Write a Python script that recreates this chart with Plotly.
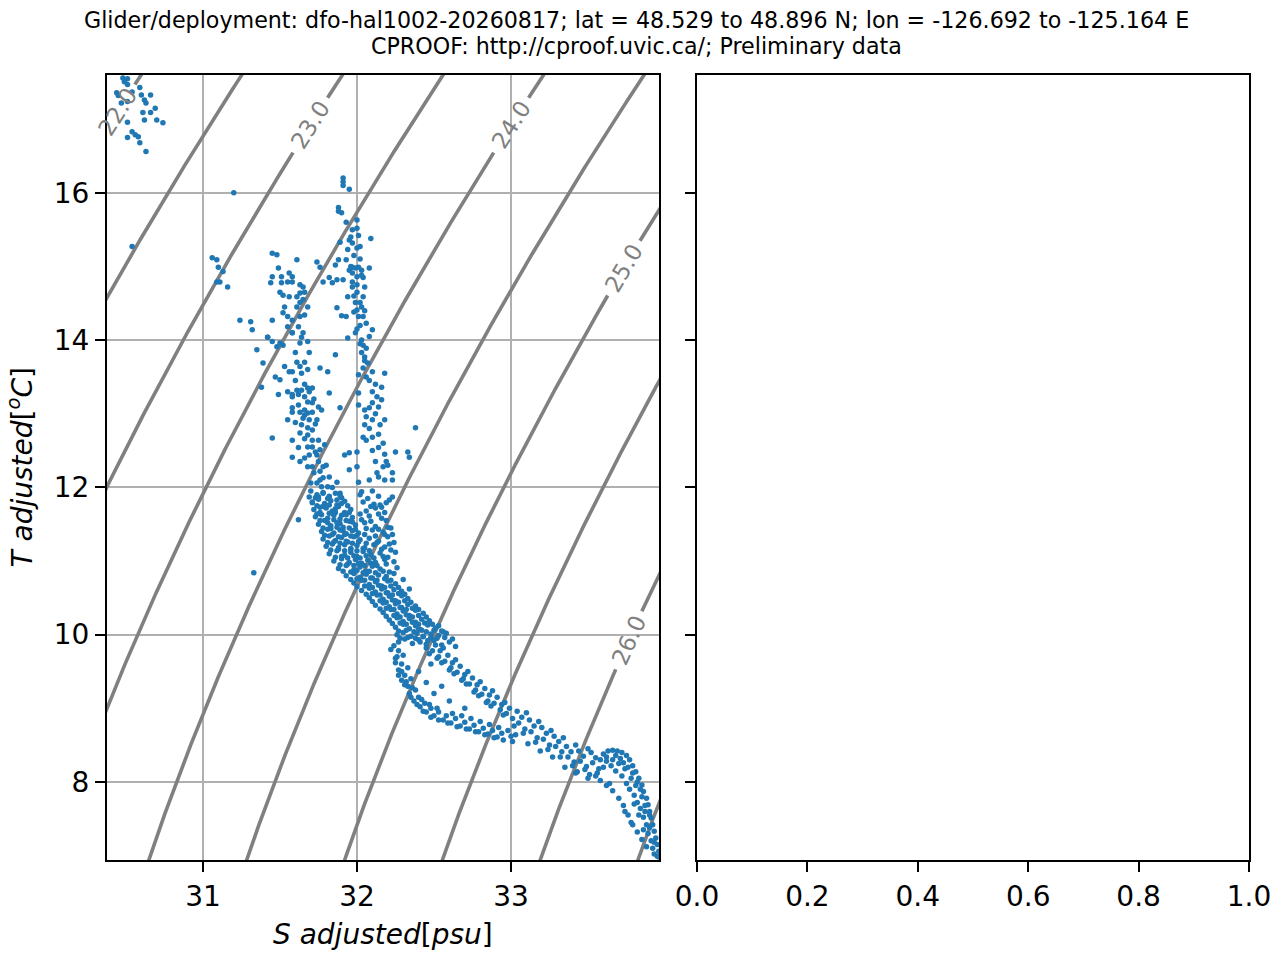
import numpy as np
import plotly.graph_objects as go

# ---------------- data ----------------
title_line1 = "Glider/deployment: dfo-hal1002-20260817; lat = 48.529 to 48.896 N; lon = -126.692 to -125.164 E"
title_line2 = "CPROOF: http://cproof.uvic.ca/; Preliminary data"

x_ticks = [31, 32, 33]
y_ticks = [8, 10, 12, 14, 16]
x2_ticks = [0.0, 0.2, 0.4, 0.6, 0.8, 1.0]
x2_ticktext = ["0.0", "0.2", "0.4", "0.6", "0.8", "1.0"]
x_range = [30.377, 33.961]
y_range = [6.94, 17.60]

density_levels = [22.0, 22.5, 23.0, 23.5, 24.0, 24.5, 25.0, 25.5, 26.0, 26.5, 27.0]
label_levels = [22.0, 23.0, 24.0, 25.0, 26.0]
label_temps = [17.10, 16.92, 16.92, 14.98, 9.93]   # temperature at which each inline label sits

# (salinity psu, temperature degC) pairs, grouped by region of the T-S cloud
surface_pts = [
    (30.48, 17.56), (30.51, 17.55), (30.49, 17.51), (30.51, 17.47), (30.44, 17.36), (30.45, 17.32),
    (30.47, 17.22), (30.51, 17.24), (30.54, 17.37), (30.59, 17.43), (30.60, 17.33), (30.62, 17.26),
    (30.63, 17.22), (30.66, 17.33), (30.61, 17.09), (30.66, 17.09), (30.69, 17.15), (30.70, 16.99),
    (30.74, 16.95), (30.62, 16.99), (30.51, 16.96), (30.54, 16.83), (30.56, 16.79), (30.58, 16.76),
    (30.59, 16.68), (30.51, 16.75), (30.63, 16.56), (31.20, 16.00), (30.54, 15.27),
]

upper_pts = [
    (31.91, 16.20), (31.91, 16.15), (31.91, 16.10), (31.95, 16.05),
    (31.88, 15.80), (31.88, 15.75), (31.90, 15.73),
    (31.93, 15.60), (32.00, 15.63), (31.97, 15.50), (32.00, 15.52),
    (31.95, 15.36), (31.97, 15.32), (31.94, 15.23), (32.00, 15.25), (32.02, 15.27), (32.09, 15.38),
    (31.93, 15.09), (31.97, 14.99), (31.99, 14.98), (32.01, 14.99), (31.97, 14.91), (32.00, 14.86),
    (32.03, 14.95), (32.08, 14.98),
    (31.97, 14.79), (31.97, 14.72), (32.00, 14.65), (32.04, 14.85), (32.05, 14.72), (32.04, 14.59),
    (32.02, 14.51), (32.00, 14.41), (32.01, 14.32), (32.04, 14.32), (32.06, 14.23), (32.10, 14.14),
    (31.99, 14.51),
    (31.89, 15.33), (31.88, 15.09), (31.91, 14.82), (31.87, 14.82), (31.94, 14.59), (31.87, 14.44),
    (31.90, 14.33), (31.93, 14.32),
    (31.74, 15.06), (31.76, 14.99), (31.78, 14.79), (31.84, 14.78), (31.82, 14.85), (31.86, 15.02),
    (31.45, 15.18), (31.48, 15.16), (31.61, 15.09), (31.49, 14.98), (31.56, 14.91), (31.58, 14.86),
    (31.51, 14.86), (31.45, 14.86), (31.44, 14.78), (31.51, 14.78), (31.55, 14.79), (31.58, 14.79),
    (31.63, 14.75), (31.65, 14.72), (31.66, 14.65), (31.63, 14.64), (31.61, 14.59), (31.56, 14.59),
    (31.52, 14.61), (31.50, 14.65), (31.65, 14.55), (31.63, 14.51), (31.68, 14.45), (31.61, 14.45),
    (31.53, 14.45), (31.52, 14.37), (31.55, 14.32), (31.63, 14.32), (31.66, 14.34), (31.58, 14.27),
    (31.55, 14.18), (31.62, 14.18), (31.65, 14.10), (31.58, 14.10), (31.45, 14.27), (31.31, 14.25),
    (31.24, 14.27), (31.32, 14.14), (31.42, 14.04),
    (31.06, 15.12), (31.09, 15.09), (31.10, 14.99), (31.13, 14.93), (31.09, 14.79), (31.11, 14.79),
    (31.16, 14.72),
    (31.96, 15.40), (31.98, 15.15), (32.02, 15.10), (31.95, 14.95), (32.03, 14.88), (32.00, 14.75),
    (31.98, 14.60), (32.03, 14.45), (31.98, 14.38), (32.05, 14.40), (32.02, 14.20), (32.08, 14.05),
    (32.00, 14.15), (31.96, 15.00), (32.01, 15.42),
]

middle_pts = [
    (31.35, 13.87), (31.42, 14.04), (31.45, 13.98), (31.48, 13.91), (31.50, 13.96), (31.52, 13.93),
    (31.39, 13.69), (31.58, 14.10), (31.64, 14.04), (31.68, 13.98), (31.63, 13.96), (31.60, 13.83),
    (31.61, 13.70), (31.66, 13.70), (31.69, 13.83), (31.63, 13.64), (31.58, 13.57), (31.64, 13.55),
    (31.68, 13.60), (31.76, 13.62), (31.81, 13.57), (31.86, 13.80),
    (31.47, 13.50), (31.50, 13.46), (31.53, 13.64), (31.56, 13.57), (31.38, 13.36), (31.49, 13.26),
    (31.55, 13.30), (31.58, 13.26), (31.61, 13.32), (31.64, 13.32), (31.68, 13.35), (31.69, 13.30),
    (31.71, 13.35), (31.82, 13.28), (31.62, 13.26), (31.66, 13.23), (31.58, 13.23),
    (31.68, 13.16), (31.71, 13.15), (31.66, 13.05), (31.63, 13.02), (31.68, 13.01), (31.71, 13.02),
    (31.75, 13.09), (31.77, 13.05), (31.58, 13.08), (31.58, 13.02), (31.55, 12.92), (31.65, 12.94),
    (31.69, 12.92), (31.74, 12.92), (31.64, 12.85), (31.68, 12.81), (31.71, 12.78), (31.68, 12.71),
    (31.63, 12.74), (31.58, 12.64), (31.71, 12.64), (31.75, 12.64), (31.71, 12.55), (31.68, 12.55),
    (31.62, 12.54), (31.76, 12.51), (31.79, 12.58), (31.74, 12.44), (31.69, 12.44), (31.58, 12.41),
    (31.63, 12.35), (31.75, 12.35), (31.78, 12.28), (31.71, 12.28), (31.68, 12.28),
    (31.45, 12.67), (31.89, 13.08),
    (31.94, 14.03), (31.99, 14.10), (32.03, 14.00), (32.04, 13.93), (32.06, 13.89), (32.03, 13.83),
    (32.05, 13.77), (32.07, 13.69), (32.04, 13.62), (32.01, 13.53), (32.10, 13.57), (32.18, 13.55),
    (32.16, 13.36), (32.10, 13.30), (32.13, 13.23), (32.16, 13.19), (32.14, 13.09), (32.08, 13.08),
    (32.05, 13.05), (32.06, 12.96), (32.10, 12.92), (32.18, 12.92), (32.15, 12.85), (32.04, 12.68),
    (32.10, 12.68), (32.06, 12.64), (32.17, 12.60), (32.14, 12.54), (32.25, 12.48), (32.33, 12.48),
    (32.34, 12.41), (32.12, 12.35), (32.17, 12.28), (32.19, 12.35), (32.23, 12.20), (32.14, 12.14),
    (32.18, 12.10), (32.23, 12.10), (32.01, 13.28), (32.01, 13.12), (32.00, 12.48), (31.95, 12.47),
    (31.92, 12.44), (32.00, 12.28), (31.95, 12.24), (32.01, 12.07), (32.03, 11.94),
    (32.38, 12.81),
    (31.76, 12.10), (31.78, 12.13), (31.74, 12.06), (31.77, 12.01), (31.81, 12.01), (31.82, 12.14),
    (31.87, 12.07), (31.75, 11.87), (31.78, 11.92), (31.82, 11.87), (31.87, 11.83), (31.89, 11.92),
    (31.71, 11.79), (31.76, 11.73), (31.82, 11.76), (31.69, 11.87), (32.21, 11.83), (32.23, 11.87),
    (32.19, 11.79), (32.16, 11.73),
    (32.02, 13.95), (32.05, 13.72), (32.08, 13.45), (32.12, 13.40), (32.06, 13.50), (32.10, 13.15),
    (32.12, 13.00), (32.08, 12.80), (32.14, 12.72), (32.18, 12.45), (32.20, 12.30), (32.10, 12.50),
    (32.05, 12.85), (32.13, 12.20), (32.08, 12.10),
    (31.60, 13.45), (31.66, 13.40), (31.72, 13.20), (31.62, 13.12), (31.66, 12.98), (31.73, 12.86),
    (31.60, 12.88), (31.66, 12.66), (31.73, 12.48), (31.66, 12.40), (31.72, 12.20), (31.76, 12.22),
    (31.80, 12.30), (31.70, 12.06), (31.84, 12.00),
]

band_pts = [
    (31.70, 11.95), (31.74, 11.90), (31.78, 11.93), (31.82, 11.88), (31.86, 11.92), (31.90, 11.86),
    (32.02, 11.90), (32.10, 11.95), (32.14, 11.88),
    (31.73, 11.86), (31.81, 11.85), (31.89, 11.89), (32.07, 11.85),
    (31.71, 11.80), (31.75, 11.84), (31.79, 11.78), (31.83, 11.82), (31.87, 11.76), (31.92, 11.81),
    (32.04, 11.80), (32.11, 11.77),
    (31.74, 11.75), (31.78, 11.74), (31.86, 11.71), (31.90, 11.78), (31.94, 11.75), (32.09, 11.74),
    (32.15, 11.76),
    (31.72, 11.70), (31.76, 11.66), (31.80, 11.72), (31.84, 11.68), (31.88, 11.74), (31.92, 11.66),
    (31.96, 11.70), (32.06, 11.68), (32.12, 11.72), (32.18, 11.66),
    (31.74, 11.64), (31.82, 11.65), (31.86, 11.66), (31.90, 11.62), (31.95, 11.66), (32.02, 11.64),
    (32.14, 11.64),
    (31.73, 11.60), (31.77, 11.63), (31.81, 11.58), (31.85, 11.62), (31.89, 11.57), (31.93, 11.63),
    (31.97, 11.59), (32.08, 11.61), (32.16, 11.58),
    (31.76, 11.55), (31.81, 11.52), (31.85, 11.56), (31.89, 11.51), (31.93, 11.55), (31.97, 11.53),
    (32.03, 11.56), (32.09, 11.54),
    (31.75, 11.50), (31.79, 11.55), (31.83, 11.48), (31.87, 11.52), (31.91, 11.46), (31.95, 11.54),
    (31.99, 11.49), (32.05, 11.52), (32.12, 11.47), (32.19, 11.55), (32.22, 11.45),
    (31.78, 11.45), (31.83, 11.44), (31.87, 11.46), (31.91, 11.41), (31.95, 11.45), (31.99, 11.43),
    (32.06, 11.44), (32.14, 11.43), (32.20, 11.46),
    (31.77, 11.40), (31.81, 11.43), (31.85, 11.38), (31.89, 11.42), (31.93, 11.37), (31.97, 11.41),
    (32.01, 11.38), (32.10, 11.42), (32.17, 11.39), (32.23, 11.36),
    (31.79, 11.35), (31.84, 11.36), (31.88, 11.33), (31.92, 11.36), (31.96, 11.34), (32.00, 11.35),
    (32.05, 11.36), (32.12, 11.34), (32.18, 11.36),
    (31.78, 11.30), (31.82, 11.34), (31.86, 11.28), (31.90, 11.32), (31.94, 11.26), (31.98, 11.33),
    (32.02, 11.29), (32.08, 11.31), (32.14, 11.27), (32.20, 11.33), (32.24, 11.25),
    (31.81, 11.25), (31.85, 11.26), (31.89, 11.24), (31.93, 11.27), (31.97, 11.24), (32.01, 11.26),
    (32.06, 11.24), (32.13, 11.25), (32.21, 11.23),
    (31.80, 11.20), (31.84, 11.23), (31.88, 11.18), (31.92, 11.22), (31.96, 11.17), (32.00, 11.21),
    (32.05, 11.18), (32.11, 11.22), (32.18, 11.19),
    (31.83, 11.15), (31.88, 11.16), (31.92, 11.14), (31.96, 11.16), (32.00, 11.14), (32.04, 11.17),
    (32.08, 11.14), (32.16, 11.16), (32.22, 11.15),
    (31.82, 11.10), (31.87, 11.14), (31.92, 11.08), (31.96, 11.12), (32.00, 11.06), (32.04, 11.13),
    (32.09, 11.09), (32.15, 11.11), (32.20, 11.05), (32.25, 11.12),
    (31.86, 11.05), (31.90, 11.06), (31.94, 11.04), (31.98, 11.07), (32.02, 11.04), (32.06, 11.07),
    (32.11, 11.04), (32.17, 11.06),
    (31.85, 11.00), (31.90, 11.03), (31.95, 10.98), (31.99, 11.02), (32.03, 10.97), (32.07, 11.01),
    (32.12, 10.98), (32.18, 11.02), (32.24, 10.99),
    (31.89, 10.95), (31.94, 10.96), (31.98, 10.94), (32.01, 10.97), (32.05, 10.94), (32.09, 10.97),
    (32.13, 10.94), (32.19, 10.96),
    (31.88, 10.90), (31.93, 10.94), (31.98, 10.88), (32.02, 10.92), (32.06, 10.86), (32.10, 10.93),
    (32.15, 10.89), (32.21, 10.85), (32.26, 10.91),
    (31.91, 10.86), (31.96, 10.85), (32.00, 10.87), (32.04, 10.84), (32.08, 10.86), (32.12, 10.84),
    (32.17, 10.86),
    (31.93, 10.80), (31.98, 10.83), (32.02, 10.78), (32.06, 10.82), (32.10, 10.77), (32.14, 10.81),
    (32.19, 10.79), (32.24, 10.83),
    (31.96, 10.75), (32.00, 10.76), (32.05, 10.74), (32.09, 10.77), (32.13, 10.74), (32.18, 10.76),
    (32.22, 10.74),
    (31.98, 10.70), (32.03, 10.74), (32.08, 10.68), (32.12, 10.72), (32.16, 10.66), (32.20, 10.73),
    (32.25, 10.69), (32.30, 10.75),
    (32.00, 10.65), (32.05, 10.66), (32.10, 10.64), (32.14, 10.67), (32.18, 10.64), (32.22, 10.66),
    (32.27, 10.64),
    (32.03, 10.60), (32.08, 10.63), (32.12, 10.58), (32.16, 10.62), (32.20, 10.57), (32.24, 10.61),
    (32.29, 10.59), (32.34, 10.62),
    (32.06, 10.55), (32.10, 10.56), (32.15, 10.54), (32.19, 10.57), (32.23, 10.54), (32.27, 10.56),
    (32.31, 10.55),
    (32.08, 10.50), (32.13, 10.54), (32.17, 10.48), (32.21, 10.52), (32.25, 10.46), (32.29, 10.53),
    (32.33, 10.49),
    (32.10, 10.45), (32.15, 10.46), (32.19, 10.44), (32.23, 10.47), (32.27, 10.44), (32.31, 10.46),
    (32.35, 10.44),
    (32.12, 10.40), (32.17, 10.43), (32.21, 10.38), (32.25, 10.42), (32.29, 10.37), (32.33, 10.41),
    (32.38, 10.39),
    (32.15, 10.35), (32.19, 10.36), (32.24, 10.34), (32.28, 10.37), (32.32, 10.34), (32.36, 10.36),
    (32.40, 10.34),
    (32.17, 10.30), (32.22, 10.34), (32.26, 10.28), (32.30, 10.32), (32.34, 10.26), (32.38, 10.33),
    (32.43, 10.29),
    (32.19, 10.25), (32.24, 10.26), (32.28, 10.24), (32.32, 10.27), (32.36, 10.24), (32.40, 10.26),
    (32.45, 10.24),
    (32.21, 10.20), (32.26, 10.23), (32.30, 10.18), (32.34, 10.22), (32.38, 10.17), (32.42, 10.21),
    (32.47, 10.19),
    (32.23, 10.15), (32.28, 10.16), (32.32, 10.14), (32.36, 10.17), (32.40, 10.14), (32.44, 10.16),
    (32.49, 10.14), (32.53, 10.12),
    (32.25, 10.10), (32.30, 10.14), (32.34, 10.08), (32.38, 10.12), (32.42, 10.06), (32.46, 10.13),
    (32.51, 10.09), (32.56, 10.04),
    (32.27, 10.05), (32.32, 10.06), (32.37, 10.04), (32.41, 10.07), (32.45, 10.04), (32.50, 10.06),
    (32.55, 10.05),
    (32.26, 10.00), (32.30, 10.03), (32.35, 9.98), (32.39, 10.02), (32.43, 9.97), (32.48, 10.01),
    (32.53, 9.99), (32.58, 10.02),
    (32.28, 9.95), (32.33, 9.96), (32.38, 9.95), (32.52, 9.95), (32.57, 9.96), (32.62, 9.94),
    (32.27, 9.90), (32.31, 9.94), (32.36, 9.88), (32.40, 9.93), (32.45, 9.87), (32.50, 9.92),
    (32.55, 9.86), (32.60, 9.90), (32.64, 9.84),
    (31.33, 10.84), (31.62, 11.56),
]

loop_pts = [
    (32.24, 9.85), (32.27, 9.78), (32.30, 9.72), (32.25, 9.68), (32.29, 9.60), (32.33, 9.55),
    (32.27, 9.52), (32.31, 9.45), (32.35, 9.40), (32.29, 9.38), (32.33, 9.30), (32.38, 9.25),
    (32.34, 9.20), (32.40, 9.15), (32.37, 9.10), (32.44, 9.07), (32.41, 9.02), (32.48, 9.00),
    (32.45, 8.95), (32.53, 8.95), (32.50, 8.90), (32.58, 8.90), (32.56, 8.84), (32.64, 8.86),
    (32.61, 8.80), (32.70, 8.81), (32.67, 8.76), (32.76, 8.77), (32.73, 8.72), (32.82, 8.73),
    (32.79, 8.68), (32.88, 8.70), (32.85, 8.65), (32.94, 8.66), (32.91, 8.61), (33.00, 8.62),
    (32.22, 9.80), (32.25, 9.62), (32.27, 9.45), (32.31, 9.32), (32.35, 9.15), (32.39, 9.05),
    (32.43, 8.96), (32.48, 8.88), (32.53, 8.84), (32.59, 8.80), (32.65, 8.75), (32.71, 8.72),
    (32.77, 8.68), (32.83, 8.64), (32.89, 8.60), (32.95, 8.57), (33.01, 8.55), (32.26, 9.70),
    (32.29, 9.50), (32.32, 9.36), (32.36, 9.28), (32.42, 9.12), (32.47, 9.05), (32.52, 9.00),
    (32.62, 8.93), (32.68, 8.90), (32.74, 8.86), (32.80, 8.82), (32.86, 8.78), (32.92, 8.74),
    (32.98, 8.70),
    (32.40, 9.50), (32.45, 9.35), (32.50, 9.20), (32.55, 9.30), (32.60, 9.10), (32.48, 9.60),
    (32.70, 9.00),
    (32.40, 10.08), (32.43, 9.98), (32.41, 9.90), (32.45, 9.82), (32.47, 9.74),
    (32.48, 9.96), (32.51, 9.86), (32.49, 9.78), (32.53, 9.70), (32.55, 9.62),
    (32.56, 9.82), (32.59, 9.72), (32.57, 9.64), (32.61, 9.55), (32.63, 9.47),
    (32.64, 9.66), (32.67, 9.57), (32.65, 9.49), (32.69, 9.40), (32.71, 9.33),
    (32.72, 9.50), (32.75, 9.41), (32.73, 9.33), (32.77, 9.25), (32.79, 9.17),
    (32.80, 9.36), (32.83, 9.27), (32.81, 9.19), (32.85, 9.10), (32.87, 9.03),
    (32.88, 9.24), (32.91, 9.15), (32.89, 9.07), (32.93, 8.98), (32.95, 8.91),
    (32.46, 9.92), (32.54, 9.78), (32.62, 9.62), (32.70, 9.46), (32.78, 9.32), (32.86, 9.18),
    (32.94, 9.05), (32.52, 9.68), (32.60, 9.52), (32.68, 9.38), (32.76, 9.22), (32.84, 9.08),
]

deep_pts = [
    (32.96, 9.08), (32.99, 9.00), (32.97, 8.93), (33.01, 8.86),
    (33.04, 8.96), (33.07, 8.88), (33.05, 8.80), (33.09, 8.72), (33.03, 8.64),
    (33.12, 8.84), (33.15, 8.76), (33.13, 8.68), (33.17, 8.60), (33.11, 8.52),
    (33.20, 8.74), (33.23, 8.66), (33.21, 8.58), (33.25, 8.50), (33.19, 8.42),
    (33.28, 8.62), (33.31, 8.55), (33.29, 8.48), (33.33, 8.41), (33.27, 8.34),
    (33.36, 8.48), (33.39, 8.41), (33.37, 8.34), (33.41, 8.27), (33.35, 8.20),
    (33.44, 8.42), (33.47, 8.35), (33.45, 8.28), (33.49, 8.21), (33.43, 8.14),
    (33.52, 8.40), (33.55, 8.33), (33.53, 8.26), (33.57, 8.18), (33.51, 8.10),
    (33.02, 8.76), (33.08, 8.66), (33.10, 8.94), (33.16, 8.54), (33.18, 8.82), (33.24, 8.44),
    (33.26, 8.70), (33.32, 8.34), (33.34, 8.60), (33.40, 8.22), (33.42, 8.50), (33.48, 8.17),
    (33.50, 8.45), (33.56, 8.12), (33.58, 8.30),
    (33.60, 8.38), (33.63, 8.42), (33.66, 8.43), (33.69, 8.42), (33.72, 8.40), (33.75, 8.36),
    (33.77, 8.30), (33.79, 8.22), (33.81, 8.14), (33.83, 8.05), (33.85, 7.96), (33.86, 7.87),
    (33.88, 7.78), (33.89, 7.69), (33.90, 7.60), (33.91, 7.51), (33.92, 7.42), (33.93, 7.33),
    (33.94, 7.24), (33.95, 7.15), (33.96, 7.06), (33.96, 6.98),
    (33.62, 8.34), (33.66, 8.30), (33.68, 8.36), (33.71, 8.32), (33.73, 8.26), (33.76, 8.20),
    (33.79, 8.12), (33.82, 8.00), (33.84, 7.90), (33.87, 7.60), (33.90, 7.38), (33.93, 7.18),
    (33.95, 6.99), (33.83, 7.55), (33.86, 7.35), (33.80, 7.70),
    (33.60, 8.20), (33.62, 8.28), (33.65, 8.22), (33.68, 8.15), (33.70, 8.25), (33.72, 8.08),
    (33.74, 8.18), (33.75, 7.98), (33.77, 7.90), (33.78, 8.05), (33.80, 7.82), (33.81, 7.95),
    (33.82, 7.72), (33.84, 7.64), (33.85, 7.80), (33.86, 7.52), (33.87, 7.68), (33.88, 7.42),
    (33.89, 7.30), (33.90, 7.55), (33.91, 7.20), (33.92, 7.10), (33.93, 7.02), (33.74, 7.60),
    (33.78, 7.45),
    (33.62, 7.95), (33.66, 7.88), (33.70, 7.78), (33.73, 7.68), (33.76, 7.55), (33.79, 7.42),
    (33.82, 7.32), (33.85, 7.22), (33.88, 7.12),
    (33.42, 8.12), (33.50, 8.05), (33.58, 8.02), (33.64, 7.98), (33.55, 8.08),
]

# ---------------- density (sigma-0, UNESCO EOS-80 at p=0) for the isopycnals ----------------
def sigma0(S, T):
    rho_w = (999.842594 + 6.793952e-2 * T - 9.095290e-3 * T**2 + 1.001685e-4 * T**3
             - 1.120083e-6 * T**4 + 6.536332e-9 * T**5)
    A = 8.24493e-1 - 4.0899e-3 * T + 7.6438e-5 * T**2 - 8.2467e-7 * T**3 + 5.3875e-9 * T**4
    B = -5.72466e-3 + 1.0227e-4 * T - 1.6546e-6 * T**2
    C = 4.8314e-4
    return rho_w + A * S + B * S**1.5 + C * S**2 - 1000.0

def salinity_on_isopycnal(level, T):
    T = np.asarray(T, dtype=float)
    lo = np.full_like(T, 25.0)
    hi = np.full_like(T, 40.0)
    for _ in range(60):
        mid = 0.5 * (lo + hi)
        below = sigma0(mid, T) < level
        lo = np.where(below, mid, lo)
        hi = np.where(below, hi, mid)
    return 0.5 * (lo + hi)

# ---------------- layout geometry ----------------
W, H = 1280, 960
L, R, TOP, BOT = 107, 31, 75, 100
pw = W - L - R            # 1142
ph = H - TOP - BOT        # 785
dom1 = [0, 552 / pw]
dom2 = [590 / pw, 1]
px_per_S = 552 / (x_range[1] - x_range[0])
px_per_T = ph / (y_range[1] - y_range[0])

GRAY = "#808080"
FONT = "DejaVu Sans"
LABEL_SIZE = 23

fig = go.Figure()

# isopycnal lines, broken where an inline label sits
t_line = np.linspace(y_range[0] - 0.3, y_range[1] + 0.3, 500)
label_info = []
for lev, tl in zip(label_levels, label_temps):
    sl = float(salinity_on_isopycnal(lev, [tl])[0])
    eps = 1e-3
    dsdS = (sigma0(sl + eps, tl) - sigma0(sl - eps, tl)) / (2 * eps)
    dsdT = (sigma0(sl, tl + eps) - sigma0(sl, tl - eps)) / (2 * eps)
    dx = -dsdT * px_per_S
    dy = -dsdS * px_per_T
    angle = float(np.degrees(np.arctan2(dy, dx)))
    label_info.append((lev, sl, tl, angle))

for lev in density_levels:
    s_line = salinity_on_isopycnal(lev, t_line)
    keep = np.ones_like(s_line, dtype=bool)
    for (llev, sl, tl, ang) in label_info:
        if abs(llev - lev) < 1e-9:
            d = np.hypot((s_line - sl) * px_per_S, (t_line - tl) * px_per_T)
            keep &= d > 31
    xs = np.where(keep, s_line, np.nan)
    ys = np.where(keep, t_line, np.nan)
    fig.add_trace(go.Scatter(x=xs, y=ys, mode="lines", line=dict(color=GRAY, width=3.6),
                             connectgaps=False, hoverinfo="skip", showlegend=False,
                             xaxis="x", yaxis="y"))

all_pts = surface_pts + upper_pts + middle_pts + band_pts + loop_pts + deep_pts
salinity = [p[0] for p in all_pts]
temperature = [p[1] for p in all_pts]
fig.add_trace(go.Scatter(
    x=salinity, y=temperature, mode="markers",
    marker=dict(size=5.5, color="#1f77b4", line=dict(width=0)),
    showlegend=False, xaxis="x", yaxis="y",
))
fig.add_trace(go.Scatter(x=[None], y=[None], mode="markers", showlegend=False,
                         xaxis="x2", yaxis="y2", hoverinfo="skip"))

axis_common = dict(showline=True, linecolor="black", linewidth=2, mirror=True,
                   ticks="outside", ticklen=10, tickwidth=2, tickcolor="black",
                   tickfont=dict(size=28, color="black", family=FONT), zeroline=False,
                   automargin=False)

annotations = [
    dict(text=title_line1, xref="paper", yref="paper", x=529 / pw, y=(860 - 20) / ph,
         xanchor="center", yanchor="middle", showarrow=False,
         font=dict(size=22.2, family=FONT, color="black")),
    dict(text=title_line2, xref="paper", yref="paper", x=529 / pw, y=(860 - 46) / ph,
         xanchor="center", yanchor="middle", showarrow=False,
         font=dict(size=22.2, family=FONT, color="black")),
    dict(text="<i>S adjusted</i>[<i>psu</i>]", xref="paper", yref="paper",
         x=dom1[1] / 2, y=(860 - 934) / ph, xanchor="center", yanchor="middle",
         showarrow=False, font=dict(size=28, family=FONT, color="black")),
    dict(text="<i>T adjusted</i>[<i><sup>o</sup>C</i>]", xref="paper", yref="paper",
         x=(21 - L) / pw, y=0.5, xanchor="center", yanchor="middle", textangle=-90,
         showarrow=False, font=dict(size=28, family=FONT, color="black")),
]
for (lev, sl, tl, ang) in label_info:
    annotations.append(dict(text=f"{lev:.1f}", xref="x", yref="y", x=sl, y=tl,
                            xanchor="center", yanchor="middle", textangle=ang,
                            showarrow=False, font=dict(size=LABEL_SIZE, family=FONT, color=GRAY)))

fig.update_layout(
    width=W, height=H,
    margin=dict(l=L, r=R, t=TOP, b=BOT, autoexpand=False),
    paper_bgcolor="white", plot_bgcolor="white",
    font=dict(family=FONT, color="black"),
    showlegend=False,
    xaxis=dict(domain=dom1, range=x_range, tickvals=x_ticks, showgrid=True,
               gridcolor="#b0b0b0", gridwidth=2, anchor="y", **axis_common),
    yaxis=dict(domain=[0, 1], range=y_range, tickvals=y_ticks, showgrid=True,
               gridcolor="#b0b0b0", gridwidth=2, anchor="x", **axis_common),
    xaxis2=dict(domain=dom2, range=[0, 1], tickvals=x2_ticks, ticktext=x2_ticktext,
                showgrid=False, anchor="y2", **axis_common),
    yaxis2=dict(domain=[0, 1], range=y_range, matches="y", tickvals=y_ticks,
                showticklabels=False, showgrid=False, anchor="x2", **axis_common),
    annotations=annotations,
)

# the page's default 8 px body margin would shift the figure; remove it
fig.write_html("out.html", config={"displayModeBar": False},
               post_script="document.body.style.margin='0px';")
